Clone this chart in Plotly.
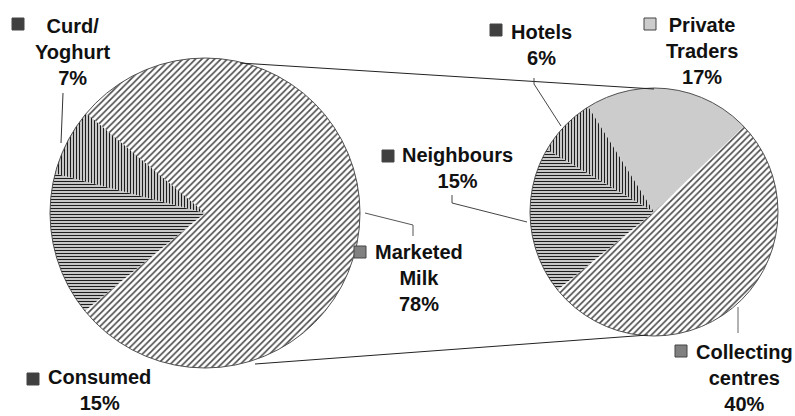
import plotly.graph_objects as go

W, H = 795, 416

# ---- data ----
main_labels = ["Marketed Milk", "Consumed", "Curd/Yoghurt"]
main_values = [78, 15, 7]
sub_labels = ["Private Traders", "Collecting centres", "Neighbours", "Hotels"]
sub_values = [17, 40, 15, 6]

# ---- geometry (pixels) ----
L_CX, L_CY, L_R = 205, 213, 155
R_CX, R_CY, R_R = 654, 212, 124


def px(x):
    return x / W


def py(y):
    return 1 - y / H


def dom(cx, cy, r):
    return dict(x=[px(cx - r), px(cx + r)], y=[py(cy + r), py(cy - r)])


DIAG = "#4a4a4a"
DARK = "#1e1e1e"

fig = go.Figure()
fig.add_trace(go.Pie(
    labels=main_labels, values=main_values, sort=False, direction="clockwise",
    rotation=-50, textinfo="none", hoverinfo="label+percent",
    domain=dom(L_CX, L_CY, L_R), showlegend=False,
    marker=dict(
        colors=["#808080", "#404040", "#404040"],
        line=dict(width=0),
        pattern=dict(shape=["/", "-", "|"], fgcolor=[DIAG, DARK, DARK],
                     bgcolor="white", size=[4.5, 3, 3], solidity=[0.35, 0.5, 0.5]),
    ),
))
fig.add_trace(go.Pie(
    labels=sub_labels, values=sub_values, sort=False, direction="clockwise",
    rotation=-32, textinfo="none", hoverinfo="label+value",
    domain=dom(R_CX, R_CY, R_R), showlegend=False,
    marker=dict(
        colors=["#cccccc", "#808080", "#404040", "#404040"],
        line=dict(width=0),
        pattern=dict(shape=["", "/", "-", "|"], fgcolor=["#cccccc", DIAG, DARK, DARK],
                     bgcolor="white", size=[4, 4.5, 3, 3], solidity=[0.4, 0.35, 0.5, 0.5]),
    ),
))

shapes = []
# pie outlines
for cx, cy, r in [(L_CX, L_CY, L_R), (R_CX, R_CY, R_R)]:
    shapes.append(dict(type="circle", xref="paper", yref="paper",
                       x0=px(cx - r), x1=px(cx + r), y0=py(cy + r), y1=py(cy - r),
                       line=dict(color="#505050", width=1)))


def seg(points, color="#333333", width=1):
    for (x0, y0), (x1, y1) in zip(points[:-1], points[1:]):
        shapes.append(dict(type="line", xref="paper", yref="paper",
                           x0=px(x0), y0=py(y0), x1=px(x1), y1=py(y1),
                           line=dict(color=color, width=width)))


# connector lines between the pies
seg([(240, 63), (654, 89)], "#222222", 1)
seg([(255, 364), (648, 335)], "#222222", 1)
# leader lines
seg([(63, 93), (61, 143)], "#333333", 1)
seg([(365, 213), (413, 225), (413, 236)], "#555555", 1)
seg([(534, 78), (534, 84), (561, 126)], "#444444", 1)
seg([(452, 195), (452, 203), (527, 222)], "#444444", 1)
seg([(738, 307), (738, 333)], "#666666", 1)

# legend-key squares
keys = [
    (12, 18, "#404040"),   # Curd
    (27, 373, "#404040"),  # Consumed
    (490, 24, "#404040"),  # Hotels
    (382, 150, "#404040"),  # Neighbours
    (354, 246, "#808080"),  # Marketed
    (675, 345, "#808080"),  # Collecting
    (644, 18, "#cccccc"),  # Private
]
for x, y, c in keys:
    shapes.append(dict(type="rect", xref="paper", yref="paper",
                       x0=px(x), x1=px(x + 12), y0=py(y + 12), y1=py(y),
                       fillcolor=c, line=dict(color="#444444", width=1)))

# labels
labels = [
    (73, 52, "Curd/<br>Yoghurt<br>7%"),
    (99, 390, "Consumed<br>15%"),
    (541, 44.5, "Hotels<br>6%"),
    (457, 168, "Neighbours<br>15%"),
    (419, 278, "Marketed<br>Milk<br>78%"),
    (702, 51, "Private<br>Traders<br>17%"),
    (744, 378, "Collecting<br>centres<br>40%"),
]
ann = []
for x, y, t in labels:
    ann.append(dict(xref="paper", yref="paper", x=px(x), y=py(y), text="<b>" + t + "</b>",
                    showarrow=False, xanchor="center", yanchor="middle", align="center",
                    font=dict(family="Liberation Sans, Arial, sans-serif", size=20, color="#111111")))

fig.update_layout(
    width=W, height=H, margin=dict(l=0, r=0, t=0, b=0),
    paper_bgcolor="white", plot_bgcolor="white",
    shapes=shapes, annotations=ann,
)
fig.write_html("out.html", config={"displayModeBar": False},
               post_script="document.body.style.margin='0';document.body.style.overflow='hidden';")
